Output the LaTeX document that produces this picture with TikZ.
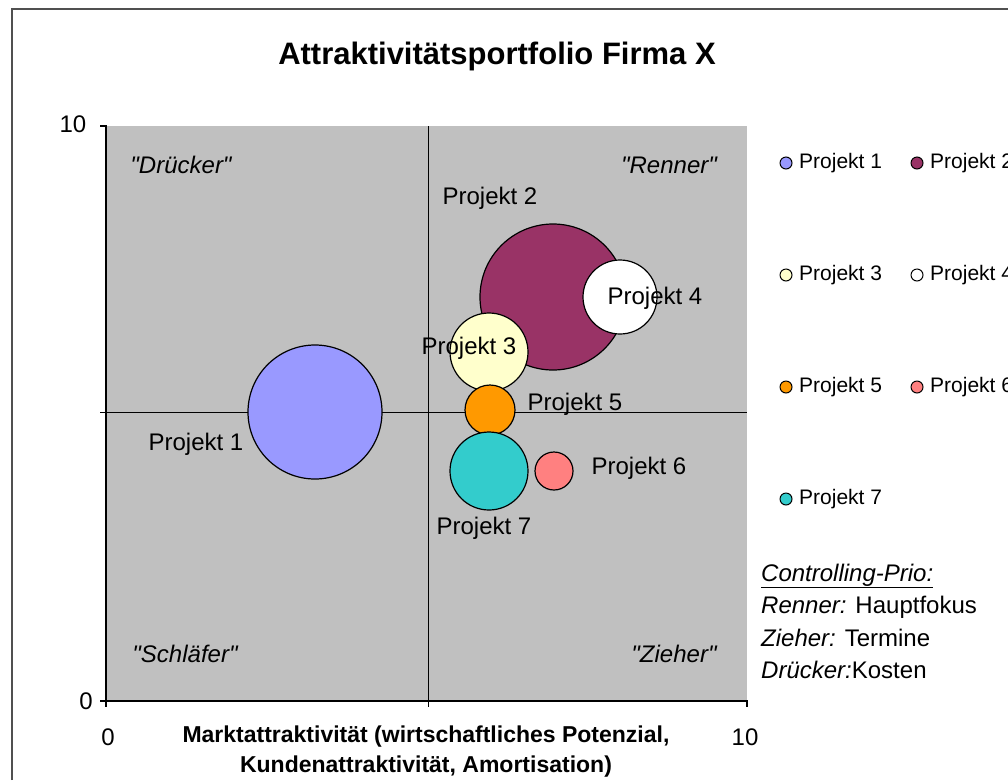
\documentclass[tikz,border=0pt]{standalone}
\usepackage{fontspec}
\setmainfont{Liberation Sans}
\definecolor{plotgray}{HTML}{C0C0C0}
\definecolor{framegray}{HTML}{505050}
\definecolor{pone}{HTML}{9999FF}
\definecolor{ptwo}{HTML}{993366}
\definecolor{pthree}{HTML}{FFFFCC}
\definecolor{pfour}{HTML}{FFFFFF}
\definecolor{pfive}{HTML}{FF9900}
\definecolor{psix}{HTML}{FF8080}
\definecolor{pseven}{HTML}{33CCCC}
\newcommand{\qq}[1]{\textquotedbl#1\textquotedbl}
\tikzset{
  bubble/.style={circle, draw=black, line width=1.2pt, inner sep=0pt},
  bublabel/.style={font=\fontsize{24}{28}\selectfont},
  quadlabel/.style={font=\fontsize{24}{28}\selectfont\itshape},
  axnum/.style={font=\fontsize{24}{28}\selectfont},
  legdot/.style={circle, draw=black, line width=1pt, inner sep=0pt, minimum size=12pt},
  legtext/.style={anchor=west, inner sep=0pt, font=\fontsize{21}{24}\selectfont},
  prio/.style={anchor=west, inner sep=0pt, font=\fontsize{24}{28}\selectfont}
}
\begin{document}
\begin{tikzpicture}[x=1pt,y=-1pt]
  \useasboundingbox[fill=white] (0,0) rectangle (1008,780);
  \draw[framegray, line width=1.5pt] (12,780) -- (12,9) -- (1008,9);

  \node[font=\fontsize{31}{36}\selectfont\bfseries] (title) at (497,56) {Attraktivitätsportfolio Firma X};

  \fill[plotgray] (106,126) rectangle (747,701);
  \draw[line width=1pt] (428,126) -- (428,707);
  \draw[line width=1pt] (100,412) -- (747,412);
  \draw[line width=1.2pt] (100,126) -- (106,126) -- (106,707);
  \draw[line width=1.2pt] (100,701) -- (747,701) -- (747,707);

  \node[axnum] (yten) at (73,124) {10};
  \node[axnum] (yzero) at (86,701) {0};
  \node[axnum] (xzero) at (108,737) {0};
  \node[axnum] (xten) at (745,737) {10};
  \node[font=\fontsize{23}{30}\selectfont\bfseries, align=center] (xtitle) at (426,752)
    {Marktattraktivität (wirtschaftliches Potenzial,\\Kundenattraktivität, Amortisation)};

  \node[quadlabel] (druecker) at (181,165) {\qq{Drücker}};
  \node[quadlabel] (renner) at (669,165) {\qq{Renner}};
  \node[quadlabel] (schlaefer) at (185,654) {\qq{Schläfer}};
  \node[quadlabel] (zieher) at (674,654) {\qq{Zieher}};

  \node[bubble, fill=pone, minimum size=134pt] (p1) at (315,412) {};
  \node[bubble, fill=ptwo, minimum size=146pt] (p2) at (553,297) {};
  \node[bubble, fill=pthree, minimum size=78pt] (p3) at (489,352) {};
  \node[bubble, fill=pfour, minimum size=74pt] (p4) at (620,297) {};
  \node[bubble, fill=pfive, minimum size=50pt] (p5) at (490,410) {};
  \node[bubble, fill=psix, minimum size=38pt] (p6) at (554,471) {};
  \node[bubble, fill=pseven, minimum size=78pt] (p7) at (489,471) {};

  \node[bublabel] (l1) at (196,444) {Projekt 1};
  \node[bublabel] (l2) at (490,198) {Projekt 2};
  \node[bublabel] (l3) at (469,348) {Projekt 3};
  \node[bublabel] (l4) at (655,298) {Projekt 4};
  \node[bublabel] (l5) at (575,404) {Projekt 5};
  \node[bublabel] (l6) at (639,468) {Projekt 6};
  \node[bublabel] (l7) at (484,528) {Projekt 7};

  \foreach \n/\c/\x/\y in {1/pone/786/163, 2/ptwo/917/163, 3/pthree/786/275, 4/pfour/917/275,
                          5/pfive/786/387, 6/psix/917/387, 7/pseven/786/499} {
    \node[legdot, fill=\c] (dot\n) at (\x,\y) {};
    \node[legtext] (leg\n) at (\x+13,\y) {Projekt \n};
  }

  \node[prio] (prio0) at (761,576) {\itshape\underline{Controlling-Prio:}};
  \node[prio] (prio1) at (761,607) {\textit{Renner:} Hauptfokus};
  \node[prio] (prio2) at (761,638) {\textit{Zieher:} Termine};
  \node[prio] (prio3) at (761,670) {\textit{Drücker:}Kosten};
\end{tikzpicture}
\end{document}
